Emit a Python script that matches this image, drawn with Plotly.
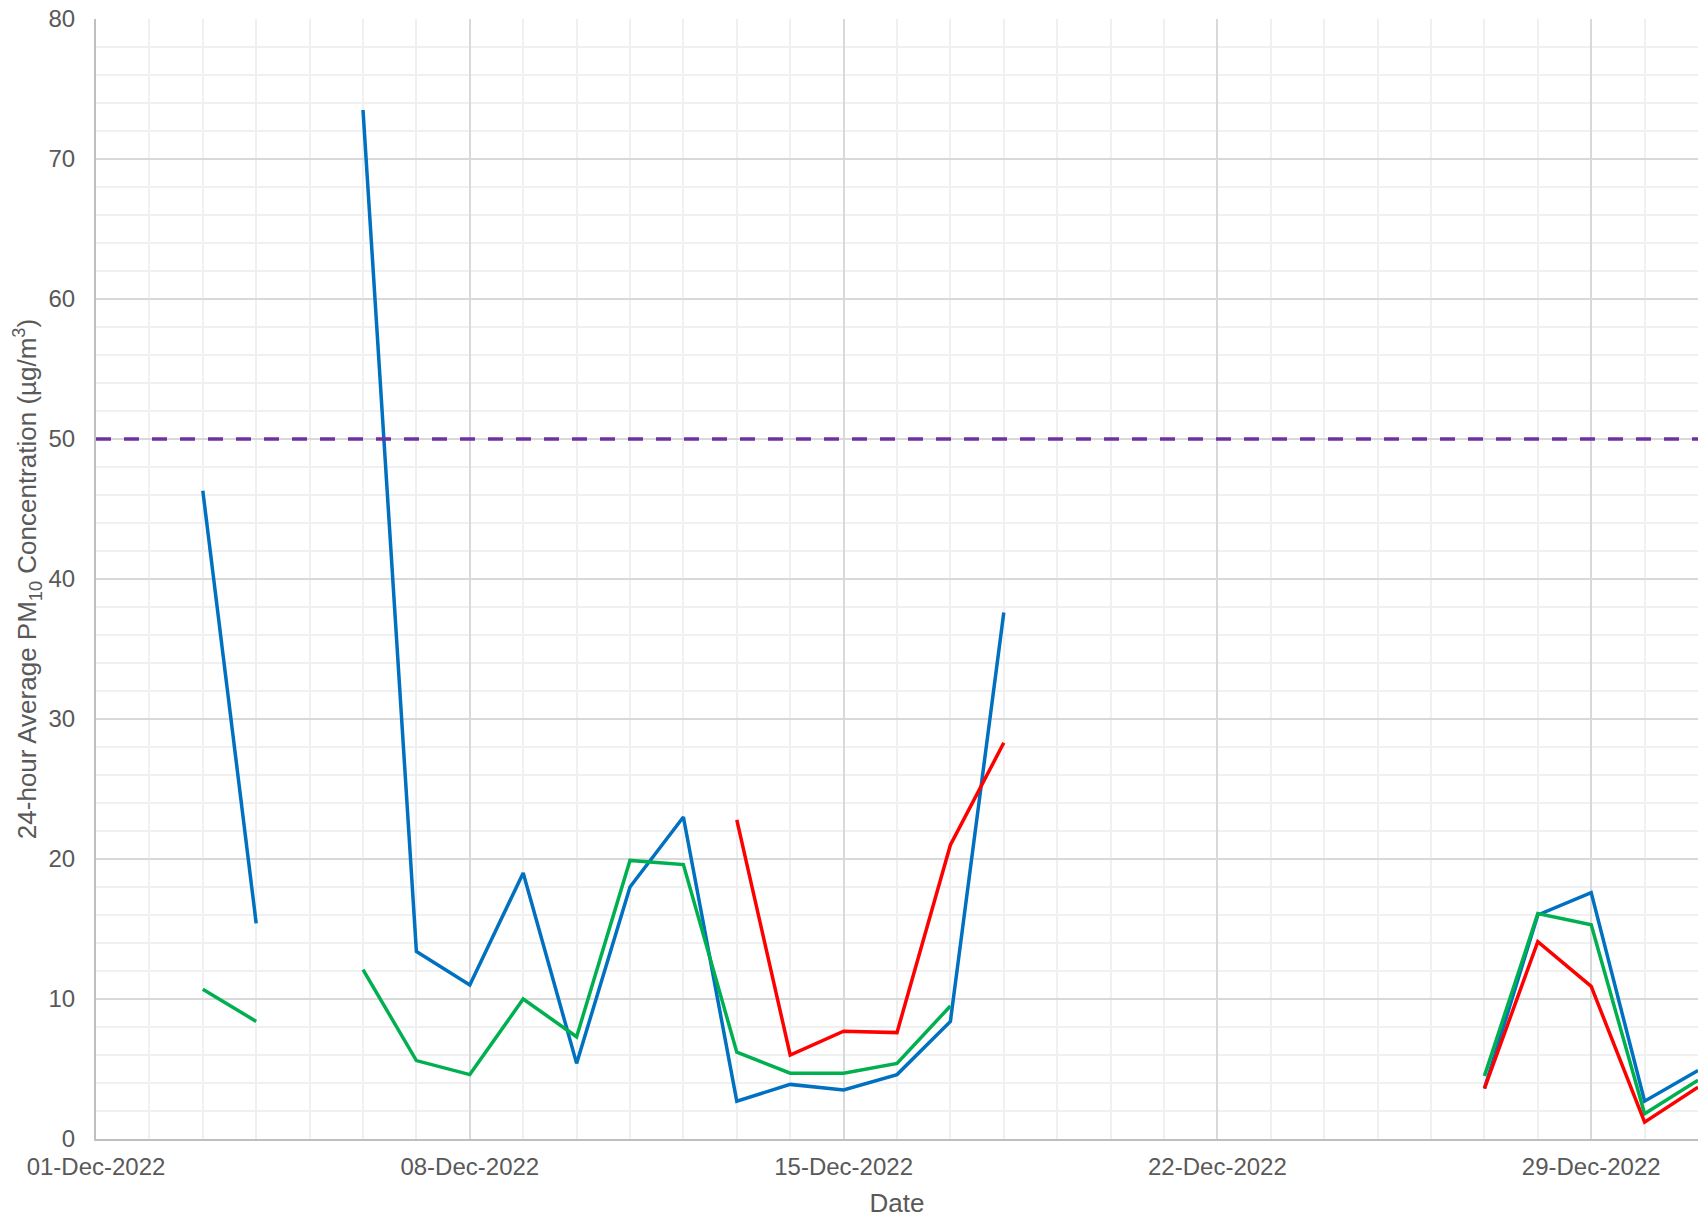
import plotly.graph_objects as go
import pandas as pd

dates = pd.date_range("2022-12-01", "2022-12-31", freq="D")

# 24-hour average PM10 per monitor (None = no valid data that day)
blue = [None, None, 46.3, 15.4, None, 73.5, 13.4, 11.0, 19.0, 5.4,
        18.0, 23.0, 2.7, 3.9, 3.5, 4.6, 8.4, 37.6, None, None,
        None, None, None, None, None, None, 3.6, 16.0, 17.6, 2.7, 4.9]
green = [None, None, 10.7, 8.4, None, 12.1, 5.6, 4.6, 10.0, 7.3,
         19.9, 19.6, 6.2, 4.7, 4.7, 5.4, 9.5, None, None, None,
         None, None, None, None, None, None, 4.5, 16.1, 15.3, 1.8, 4.2]
red = [None, None, None, None, None, None, None, None, None, None,
       None, None, 22.8, 6.0, 7.7, 7.6, 21.0, 28.3, None, None,
       None, None, None, None, None, None, 3.6, 14.1, 10.9, 1.2, 3.7]

limit = 50  # 24-hour PM10 criterion

font = "Liberation Sans, Arial, sans-serif"
grey = "#595959"
day = 86400000

fig = go.Figure()
for ys, col in [(blue, "#0070C0"), (green, "#00B050"), (red, "#FF0000")]:
    fig.add_trace(go.Scatter(x=dates, y=ys, mode="lines", connectgaps=False,
                             line=dict(color=col, width=3.5), showlegend=False))

fig.add_hline(y=limit, line=dict(color="#7030A0", width=3.5, dash="15px,13px"))

fig.update_layout(
    width=1699, height=1219,
    margin=dict(l=96, r=1, t=19, b=80),
    plot_bgcolor="white", paper_bgcolor="white",
    font=dict(family=font, size=24, color=grey),
)
fig.update_xaxes(
    range=["2022-12-01", "2022-12-31"], automargin=False,
    tick0="2022-12-01", dtick=7 * day, tickformat="%d-%b-%Y",
    ticklabelstandoff=5,
    showgrid=True, gridcolor="#D9D9D9", gridwidth=2,
    minor=dict(dtick=day, showgrid=True, gridcolor="#F0F0F0", gridwidth=2),
    showline=True, linecolor="#BFBFBF", linewidth=2, zeroline=False,
    title=dict(text="Date", font=dict(size=26), standoff=15),
)
fig.update_yaxes(
    range=[0, 80], dtick=10, automargin=False, ticklabelstandoff=14,
    showgrid=True, gridcolor="#D9D9D9", gridwidth=2,
    minor=dict(dtick=2, showgrid=True, gridcolor="#F0F0F0", gridwidth=2),
    showline=True, linecolor="#BFBFBF", linewidth=2, zeroline=False,
    title=dict(text="24-hour Average PM<sub>10</sub> Concentration (µg/m<sup>3</sup>)",
               font=dict(size=26), standoff=4),
)

# page has a default body margin; drop it so the figure fills the window
fig.write_html("out.html", config={"displayModeBar": False},
               post_script="document.body.style.margin='0';document.body.style.overflow='hidden';")
